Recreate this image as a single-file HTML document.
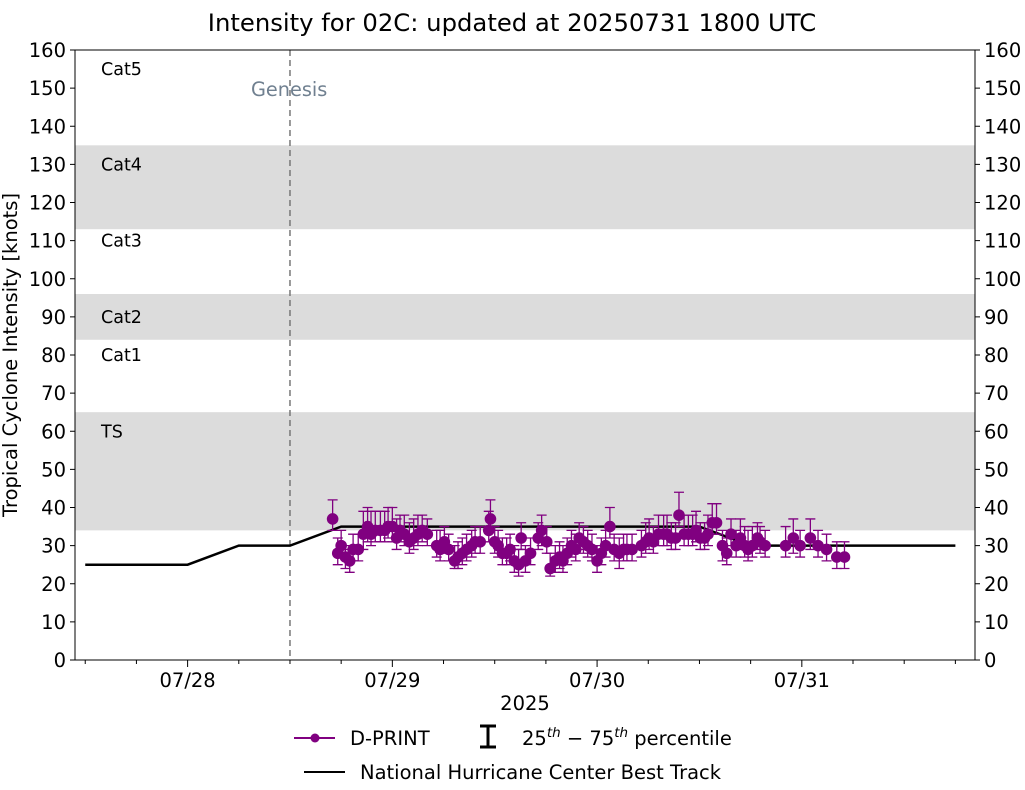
<!DOCTYPE html>
<html><head><meta charset="utf-8"><style>
body{margin:0;background:#fff;}
svg text{font-family:"DejaVu Sans","Liberation Sans",sans-serif;}
</style></head><body>
<svg id="chart" width="1025" height="785" xmlns="http://www.w3.org/2000/svg">
<text x="512" y="31" font-size="24.3" text-anchor="middle">Intensity for 02C: updated at 20250731 1800 UTC</text>
<g id="bands"></g>
<g id="grid"></g>
<g id="series"></g>
<rect x="75" y="50" width="900" height="610" fill="none" stroke="#000" stroke-width="1"/>
<g id="axes"></g>
<text transform="translate(17,355) rotate(-90)" font-size="19.5" text-anchor="middle">Tropical Cyclone Intensity [knots]</text>
<text x="525" y="710" font-size="19.5" text-anchor="middle">2025</text>
<g>
<line x1="294" y1="738" x2="335" y2="738" stroke="#800080" stroke-width="2"/>
<circle cx="315" cy="738" r="4.5" fill="#800080"/>
<text x="350" y="745" font-size="19.5">D-PRINT</text>
<path d="M480 726 H496 M488 726 V747 M480 747 H496" stroke="#000" stroke-width="3" fill="none"/>
<text x="522" y="745" font-size="19.5">25<tspan font-size="13.5" dy="-8" font-style="italic">th</tspan><tspan dy="8"> − 75</tspan><tspan font-size="13.5" dy="-8" font-style="italic">th</tspan><tspan dy="8"> percentile</tspan></text>
<line x1="304" y1="772" x2="345" y2="772" stroke="#000" stroke-width="2"/>
<text x="360" y="779" font-size="19.5">National Hurricane Center Best Track</text>
</g>
</svg>
<script>
const dpHours=[-7.0,-6.4,-6.0,-5.5,-5.0,-4.6,-4.0,-3.4,-2.9,-2.5,-2.0,-1.4,-0.9,-0.5,0,0.5,0.9,1.4,2.0,2.5,3.0,3.5,4.1,5.2,5.6,6.1,6.6,7.3,7.7,8.2,8.7,9.3,9.7,10.3,11.3,11.5,12.0,12.4,12.9,13.4,13.8,14.3,14.8,15.1,15.6,16.2,17.1,17.5,18.1,18.5,19.1,19.6,20.0,20.5,21.0,21.5,21.9,22.4,22.9,23.4,24.0,24.5,25.0,25.5,26.0,26.6,27.1,27.5,28.1,29.2,29.7,30.1,30.6,31.2,31.8,32.2,32.7,33.2,33.6,34.2,34.7,35.2,35.6,36.1,36.6,37.0,37.5,38.0,38.7,39.2,39.7,40.3,40.8,41.3,41.7,42.2,42.8,43.1,43.7,46.1,47.0,47.8,49.0,49.9,50.9,52.1,53.0];
const dpValues=[37,28,30,27,26,29,29,33,35,33,34,34,34,35,35,32,34,33,31,32,33,34,33,30,29,31,29,26,27,28,29,30,31,31,34,37,31,30,28,28,29,26,25,32,26,28,32,34,31,24,26,27,26,28,30,29,32,31,30,29,26,28,30,35,29,28,29,29,29,30,31,32,31,33,33,33,32,32,38,33,33,33,34,32,32,33,36,36,30,28,33,30,32,30,29,30,32,31,30,30,32,30,32,30,29,27,27];
const dpLoOff=[3,3,3,3,3,3,3,4,4,3,3,3,3,3,4,3,3,3,3,3,3,3,3,3,3,3,3,2,3,3,3,3,3,3,3,3,3,3,3,3,3,3,3,3,3,3,3,4,3,2,3,3,3,3,3,3,3,3,3,3,3,3,3,3,3,4,3,3,3,3,3,3,3,3,3,3,3,3,3,3,3,3,3,3,3,3,3,3,4,3,3,3,3,3,3,3,3,3,3,3,4,3,3,3,3,3,3];
const dpHiOff=[5,4,4,3,3,4,4,6,5,6,5,5,5,5,5,5,4,5,5,5,5,4,4,4,5,4,4,4,4,4,4,4,4,4,5,5,4,4,4,4,4,4,4,4,4,4,4,4,4,4,4,4,4,4,4,4,4,4,4,4,4,4,4,5,4,4,4,4,4,4,5,5,4,5,5,5,4,4,6,5,5,5,5,4,4,5,5,5,4,4,4,4,5,5,5,5,4,4,4,5,5,4,5,4,4,4,4];
const btHours=[-36,-30,-24,-18,-12,-6,0,6,12,18,24,30,36,42,48,54,60,66];
const btValues=[25,25,25,30,30,35,35,35,35,35,35,35,35,30,30,30,30,30];
const bandLo=[34,84,113];
const bandHi=[65,96,135];
const catNames=["TS","Cat1","Cat2","Cat3","Cat4","Cat5"];
const catY=[60,80,90,110,130,155];
const yTicks=[0,10,20,30,40,50,60,70,80,90,100,110,120,130,140,150,160];
const dayLabels=["07/28","07/29","07/30","07/31"];
const dayHours=[-24,0,24,48];
const genesisHour=-12;

const NS="http://www.w3.org/2000/svg";
const X0=75,X1=975,Y0=660,Y1=50;
const hMin=-37.2,hMax=68.3;
function xs(h){return X0+(h-hMin)/(hMax-hMin)*(X1-X0);}
function ys(v){return Y0-v/160*(Y0-Y1);}
function mk(tag,attrs,parent){const e=document.createElementNS(NS,tag);for(const k in attrs)e.setAttribute(k,attrs[k]);parent.appendChild(e);return e;}
const bands=document.getElementById('bands'),grid=document.getElementById('grid'),series=document.getElementById('series'),axes=document.getElementById('axes');
for(let i=0;i<bandLo.length;i++){
  const r=mk('rect',{x:X0,y:ys(bandHi[i]),width:X1-X0,height:ys(bandLo[i])-ys(bandHi[i]),fill:'#dcdcdc'},bands);
  
  
}
for(let i=0;i<catNames.length;i++){
  const t=mk('text',{x:101,y:ys(catY[i])+6,'font-size':17.5},grid);t.textContent=catNames[i];
  
  
}
const gl=mk('line',{x1:xs(genesisHour),x2:xs(genesisHour),y1:Y1,y2:Y0,stroke:'#777','stroke-width':1.5,'stroke-dasharray':'6,4'},grid);


const gt=mk('text',{x:xs(genesisHour)-39,y:96,'font-size':19.3,fill:'#708090'},grid);gt.textContent='Genesis';


const bt=mk('polyline',{points:btHours.map((h,i)=>xs(h)+','+ys(btValues[i])).join(' '),fill:'none',stroke:'#000','stroke-width':2.5},series);


for(let i=0;i<dpHours.length;i++){
  const x=xs(dpHours[i]),lo=ys(dpValues[i]-dpLoOff[i]),hi=ys(dpValues[i]+dpHiOff[i]);
  const e=mk('path',{d:`M${x} ${lo}V${hi}M${x-5} ${lo}H${x+5}M${x-5} ${hi}H${x+5}`,stroke:'#800080','stroke-width':1.3,fill:'none'},series);
  
  
}
for(let i=0;i<dpHours.length;i++){
  const c=mk('circle',{cx:xs(dpHours[i]),cy:ys(dpValues[i]),r:5.8,fill:'#800080'},series);
  
  
}
yTicks.forEach(v=>{
  const y=ys(v);
  mk('line',{x1:X0-5,x2:X0,y1:y,y2:y,stroke:'#000'},axes);
  mk('line',{x1:X1,x2:X1+5,y1:y,y2:y,stroke:'#000'},axes);
  const a=mk('text',{x:X0-9,y:y+7,'font-size':19.5,'text-anchor':'end'},axes);a.textContent=v;
  
  
  const b=mk('text',{x:X1+9,y:y+7,'font-size':19.5},axes);b.textContent=v;
  
  
});
for(let h=-36;h<=66;h+=6){
  const major=dayHours.includes(h);
  mk('line',{x1:xs(h),x2:xs(h),y1:Y0,y2:Y0+(major?7:4),stroke:'#000'},axes);
}
dayHours.forEach((h,i)=>{
  const t=mk('text',{x:xs(h),y:Y0+27,'font-size':19.5,'text-anchor':'middle'},axes);t.textContent=dayLabels[i];
  
  
});
</script>
</body></html>
